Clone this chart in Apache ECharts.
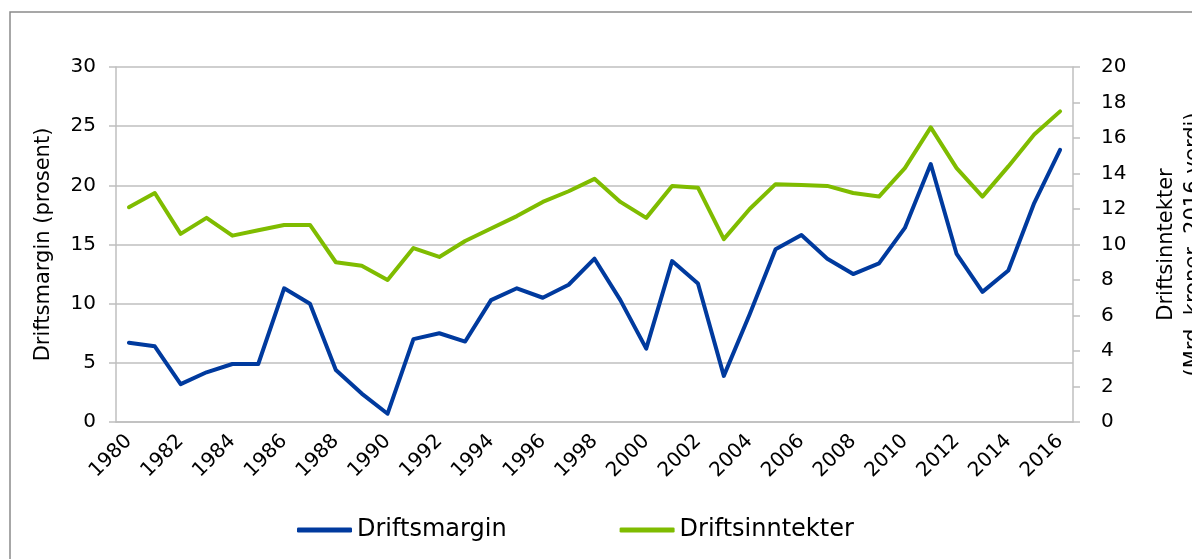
<!DOCTYPE html>
<html>
<head>
<meta charset="utf-8">
<script src="https://cdn.jsdelivr.net/npm/echarts@6/dist/echarts.min.js"></script>
<style>
  html, body { margin: 0; padding: 0; background: #fff; }
  #chart { width: 1192px; height: 559px; }
</style>
</head>
<body>
<div id="chart"></div>
<script>
  const years = ['1980', '1981', '1982', '1983', '1984', '1985', '1986', '1987', '1988', '1989',
    '1990', '1991', '1992', '1993', '1994', '1995', '1996', '1997', '1998', '1999',
    '2000', '2001', '2002', '2003', '2004', '2005', '2006', '2007', '2008', '2009',
    '2010', '2011', '2012', '2013', '2014', '2015', '2016']

  // prosent, venstre akse
  const driftsmargin = [6.7, 6.4, 3.2, 4.2, 4.9, 4.9, 11.3, 10.0, 4.4, 2.4,
    0.7, 7.0, 7.5, 6.8, 10.3, 11.3, 10.5, 11.6, 13.8, 10.3,
    6.2, 13.6, 11.7, 3.9, 9.1, 14.6, 15.8, 13.8, 12.5, 13.4,
    16.4, 21.8, 14.2, 11.0, 12.8, 18.5, 23.0]

  // mrd. kroner, hoyre akse
  const driftsinntekter = [12.1, 12.9, 10.6, 11.5, 10.5, 10.8, 11.1, 11.1, 9.0, 8.8,
    8.0, 9.8, 9.3, 10.2, 10.9, 11.6, 12.4, 13.0, 13.7, 12.4,
    11.5, 13.3, 13.2, 10.3, 12.0, 13.4, 13.35, 13.3, 12.9, 12.7,
    14.3, 16.6, 14.3, 12.7, 14.4, 16.2, 17.5]

  const font = 'DejaVu Sans, Verdana, sans-serif'
  const gray = '#bfbfbf'

  const mychart = echarts.init(document.getElementById('chart'))
  mychart.setOption({
    animation: false,
    textStyle: { fontFamily: font, color: '#000' },
    graphic: [{
      type: 'rect',
      z: -1,
      shape: { x: 10, y: 12, width: 1400, height: 800 },
      style: { fill: 'none', stroke: '#8a8a8a', lineWidth: 1.5 }
    }],
    grid: {
      left: 116,
      right: 119,
      top: 67,
      bottom: 137,
      containLabel: false,
      outerBoundsMode: 'none'
    },
    legend: {
      left: 292,
      top: 513,
      icon: 'roundRect',
      itemWidth: 55,
      itemHeight: 5,
      itemGap: 113,
      textStyle: { fontFamily: font, fontSize: 24, color: '#000' },
      data: ['Driftsmargin', 'Driftsinntekter']
    },
    xAxis: {
      type: 'category',
      data: years,
      boundaryGap: true,
      axisLine: { lineStyle: { color: gray, width: 1.5 } },
      axisTick: { interval: 0, length: 7, lineStyle: { color: gray, width: 1.5 } },
      axisLabel: {
        interval: 1,
        rotate: 45,
        margin: 16,
        fontSize: 20,
        fontFamily: font,
        color: '#000'
      }
    },
    yAxis: [
      {
        type: 'value',
        min: 0,
        max: 30,
        interval: 5,
        name: 'Driftsmargin (prosent)',
        nameLocation: 'middle',
        nameRotate: 90,
        nameGap: 62,
        nameMoveOverlap: false,
        nameTextStyle: { fontFamily: font, fontSize: 21, color: '#000' },
        axisLine: { show: true, lineStyle: { color: gray, width: 1.5 } },
        axisTick: { show: true, length: 7, lineStyle: { color: gray, width: 1.5 } },
        axisLabel: { margin: 20, fontSize: 20, fontFamily: font, color: '#000' },
        splitLine: { lineStyle: { color: gray, width: 1.5 } }
      },
      {
        type: 'value',
        position: 'right',
        min: 0,
        max: 20,
        interval: 2,
        name: 'Driftsinntekter\n(Mrd. kroner, 2016-verdi)',
        nameLocation: 'middle',
        nameRotate: 90,
        nameGap: 80,
        nameMoveOverlap: false,
        nameTextStyle: { fontFamily: font, fontSize: 21, color: '#000', lineHeight: 27, align: 'center' },
        axisLine: { show: true, lineStyle: { color: gray, width: 1.5 } },
        axisTick: { show: true, length: 7, lineStyle: { color: gray, width: 1.5 } },
        axisLabel: { margin: 28, fontSize: 20, fontFamily: font, color: '#000' },
        splitLine: { show: false }
      }
    ],
    series: [
      {
        name: 'Driftsmargin',
        type: 'line',
        yAxisIndex: 0,
        data: driftsmargin,
        symbol: 'none',
        color: '#003a9e',
        lineStyle: { width: 4, color: '#003a9e', cap: 'round', join: 'round' }
      },
      {
        name: 'Driftsinntekter',
        type: 'line',
        yAxisIndex: 1,
        data: driftsinntekter,
        symbol: 'none',
        color: '#7fbc00',
        lineStyle: { width: 4, color: '#7fbc00', cap: 'round', join: 'round' }
      }
    ]
  })
</script>
</body>
</html>
